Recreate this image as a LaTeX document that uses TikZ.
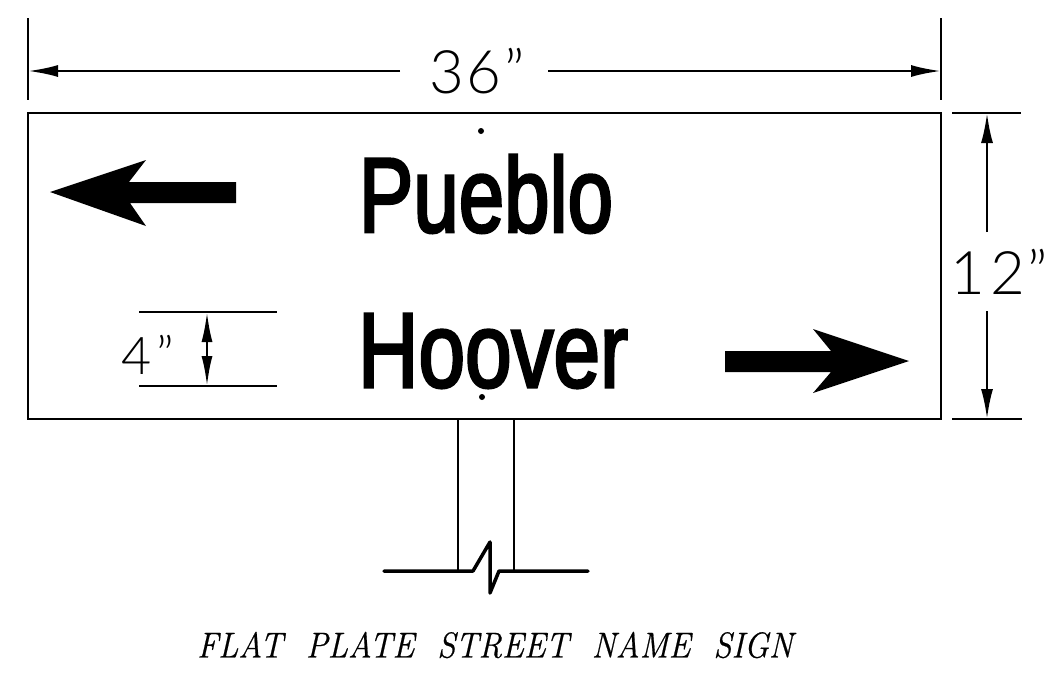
\documentclass[tikz,border=0pt]{standalone}
\usepackage{fontspec}
\setmainfont[ItalicFeatures={FakeBold=0.6}]{Latin Modern Roman}
\newfontfamily\signfont[FakeBold=3]{Liberation Sans}
\newfontfamily\dimfont{Lato Light}
\usetikzlibrary{arrows.meta}
\tikzset{
  outline/.style={line width=2.4pt},
  dimline/.style={line width=2.4pt,-{Latex[length=30pt,width=12pt]}},
  signtext/.style={inner sep=0pt,font=\signfont\fontsize{106}{106}\selectfont},
  dimtext/.style={inner sep=0pt,font=\dimfont\fontsize{60}{60}\selectfont},
  breakline/.style={line width=3.5pt,line cap=round,line join=round}
}
\begin{document}
\begin{tikzpicture}[x=1pt,y=-1pt]
\useasboundingbox (0,0) rectangle (1048,673);
% sign plate and post
\draw[outline] (28,113) rectangle (941,419);
\coordinate (postl) at (458,419); \coordinate (postlb) at (458,571);
\coordinate (postr) at (514,419); \coordinate (postrb) at (514,571);
\draw[outline] (postl)--(postlb);
\draw[outline] (postr)--(postrb);
\draw[breakline] (384,571)--(473,571)--(490,542)--(490,593)--(499,571)--(588,571);
% overall width
\node[dimtext] (wdim) at (477,71) {3\kern3pt 6\kern3pt”};
\coordinate (wl) at (28,71); \coordinate (wr) at (941,71);
\draw[outline] (28,18)--(28,100);
\draw[outline] (941,18)--(941,100);
\draw[dimline] (400,71)--(wl);
\draw[dimline] (548,71)--(wr);
% overall height
\node[dimtext] (hdim) at (999,272) {1\kern6pt 2\kern2pt”};
\coordinate (ht) at (987,113); \coordinate (hb) at (987,419);
\draw[outline] (952,113)--(1021,113);
\draw[outline] (952,419)--(1022,419);
\draw[dimline] (987,232)--(ht);
\draw[dimline] (987,311)--(hb);
% letter height
\node[dimtext,font=\dimfont\fontsize{52}{52}\selectfont] (ldim) at (148,355) {4\kern5pt”};
\coordinate (lt) at (207,312); \coordinate (lb) at (207,386);
\draw[outline] (139,312)--(277,312);
\draw[outline] (139,386)--(277,386);
\draw[dimline,{Latex[length=30pt,width=11pt]}-{Latex[length=30pt,width=11pt]}] (lt)--(lb);
% legend
\node[signtext,xscale=.77] (pueblo) at (486,194) {Pueblo};
\node[signtext,xscale=.79] (hoover) at (493,351) {Hoover};
\fill (481,131) circle (3pt);
\fill (482,397) circle (3pt);
% arrows
\fill (50,192)--(146,160)--(129,182)--(236,182)--(236,203)--(130,203)--(146,226)--cycle;
\fill (909,361)--(813,329)--(831,351)--(725,351)--(725,372)--(831,372)--(813,393)--cycle;
% caption
\node[inner sep=0pt,xscale=.915,font=\itshape\fontsize{36}{36}\selectfont] (caption) at (495,645) {FLAT\ \ PLATE\ \ STREET\ \ NAME\ \ SIGN};
\end{tikzpicture}
\end{document}
